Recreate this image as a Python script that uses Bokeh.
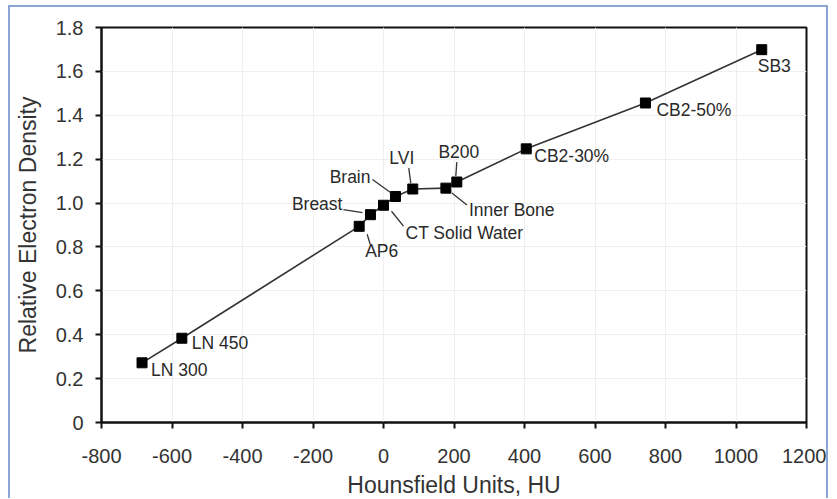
from bokeh.plotting import figure
from bokeh.models import ColumnDataSource, Range1d, FixedTicker
from bokeh.core.properties import value
from bokeh.embed import file_html
from bokeh.resources import INLINE

# ---- data ----
names = ["LN 300", "LN 450", "AP6", "Breast", "CT Solid Water", "Brain", "LVI",
         "Inner Bone", "B200", "CB2-30%", "CB2-50%", "SB3"]
hu = [-685, -572, -69, -37, 0, 34, 83, 177, 208, 405, 743, 1073]
red = [0.272, 0.384, 0.894, 0.947, 0.990, 1.030, 1.064, 1.068, 1.096, 1.247, 1.456, 1.699]

x_ticks = [-800, -600, -400, -200, 0, 200, 400, 600, 800, 1000, 1200]
y_ticks = [0, 0.2, 0.4, 0.6, 0.8, 1.0, 1.2, 1.4, 1.6, 1.8]
y_tick_labels = ["0", "0.2", "0.4", "0.6", "0.8", "1.0", "1.2", "1.4", "1.6", "1.8"]

# ---- label layout (screen px offsets from each marker, y downwards) ----
lab_dx = [9, 10, 6, -28, 22, -25, -11, 23, 2, 8, 11, -4]
lab_dy = [7, 5, 25, -11, 28, -20, -31, 22, -30, 7, 7, 16]
lab_align = ["left", "left", "left", "right", "left", "right", "center", "left",
             "center", "left", "left", "left"]
# leader lines (px offsets from marker): start and end, None = no leader
lead = [None, None, (8, 8, 11, 18), (-27, -5, -8, -2), (8, 6, 20, 21),
        (-23, -17, -5, -4), (-4, -21, -2, -6), (6, 5, 21, 17), (0, -20, -1, -6),
        None, None, None]

XMIN, XMAX, YMIN, YMAX = -800, 1200, 0, 1.8
FW, FH = 705, 397
ML, MR, MT, MB = 91, 24, 20, 76
sx = FW / (XMAX - XMIN)
sy = FH / (YMAX - YMIN)

FONT = "Liberation Sans"

p = figure(width=ML + FW + MR, height=MT + FH + MB, output_backend="svg",
           toolbar_location=None,
           x_range=Range1d(XMIN, XMAX), y_range=Range1d(YMIN, YMAX),
           min_border_left=ML, min_border_right=MR, min_border_top=MT,
           min_border_bottom=MB)
p.styles = {"border-left": "2px solid #8ba6d4", "border-top": "2px solid #8ba6d4",
            "border-right": "2px solid #8ba6d4", "margin-top": "5px",
            "margin-left": "8px", "margin-bottom": "-30px"}
p.background_fill_color = "white"
p.border_fill_color = "white"
p.outline_line_color = "#111111"
p.outline_line_width = 2

p.xaxis.ticker = FixedTicker(ticks=x_ticks)
p.yaxis.ticker = FixedTicker(ticks=y_ticks)
p.yaxis.major_label_overrides = {t: l for t, l in zip(y_ticks, y_tick_labels)}
p.xaxis.major_label_overrides = {t: str(t) for t in x_ticks}

for ax in (p.xaxis, p.yaxis):
    ax.axis_line_color = "#111111"
    ax.axis_line_width = 2
    ax.major_tick_line_color = "#111111"
    ax.major_tick_line_width = 2
    ax.major_tick_out = 6
    ax.major_tick_in = 0
    ax.minor_tick_line_color = None
    ax.major_label_text_font = FONT
    ax.major_label_text_font_size = "20px"
    ax.major_label_text_color = "#333333"
    ax.axis_label_text_font = FONT
    ax.axis_label_text_font_size = "23px"
    ax.axis_label_text_font_style = "normal"
    ax.axis_label_text_color = "#333333"

p.xaxis.axis_label = "Hounsfield Units, HU"
p.yaxis.axis_label = "Relative Electron Density"
p.xaxis.major_label_standoff = 20
p.yaxis.major_label_standoff = 12
p.xaxis.axis_label_standoff = 6
p.yaxis.axis_label_standoff = 12

p.xgrid.grid_line_color = "#efefef"
p.ygrid.grid_line_color = "#efefef"

src = ColumnDataSource(dict(x=hu, y=red))
p.line("x", "y", source=src, line_color="#333333", line_width=1.6)
p.scatter("x", "y", source=src, marker="square", size=10, fill_color="black",
          line_color="black")

# labels
tx = [x + dx / sx for x, dx in zip(hu, lab_dx)]
ty = [y - dy / sy for y, dy in zip(red, lab_dy)]
lsrc = ColumnDataSource(dict(x=tx, y=ty, t=names, a=lab_align))
p.text("x", "y", text="t", source=lsrc, text_align="a", text_baseline="middle",
       text_font=value(FONT), text_font_size="17.5px", text_color="#2a2a2a")

# leader lines
x0, y0, x1, y1 = [], [], [], []
for x, y, l in zip(hu, red, lead):
    if l is None:
        continue
    x0.append(x + l[0] / sx); y0.append(y - l[1] / sy)
    x1.append(x + l[2] / sx); y1.append(y - l[3] / sy)
p.segment(x0, y0, x1, y1, line_color="#333333", line_width=1.3)

open("out.html", "w").write(file_html(p, INLINE))
